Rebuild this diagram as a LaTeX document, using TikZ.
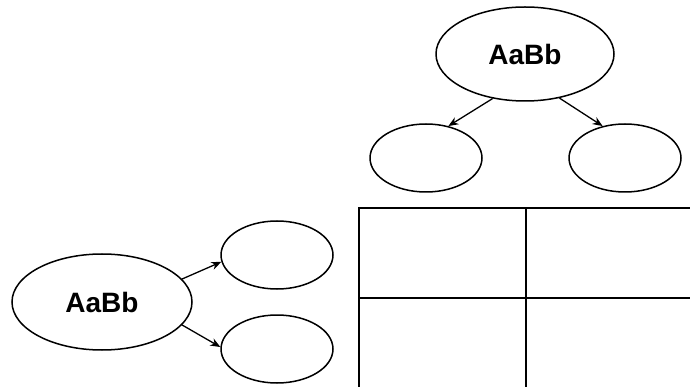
\documentclass[tikz,border=0pt]{standalone}
\usepackage{fontspec}
\setmainfont{Liberation Sans}
\usetikzlibrary{shapes.geometric,arrows.meta}
\begin{document}
\begin{tikzpicture}[x=1pt,y=-1pt,
  oval/.style={draw, ellipse, line width=1.5pt, inner sep=0pt},
  big/.style={oval, minimum width=178pt, minimum height=94pt,
    font=\fontsize{28}{30}\selectfont\bfseries},
  small/.style={oval, minimum width=112pt, minimum height=68pt},
  link/.style={line width=1.3pt, -{Stealth[length=10pt,width=8pt]}},
  grid/.style={line width=2pt}]
\useasboundingbox (0,0) rectangle (690,387);
\begin{scope}
\clip (0,0) rectangle (690,387);
% punnett square
\draw[grid] (359,400) -- (359,208) -- (700,208);
\draw[grid] (359,298) -- (700,298);
\draw[grid] (526,208) -- (526,400);
\end{scope}
% top parent and its gametes
\node[big] (top) at (525,54) {AaBb};
\node[small] (tl) at (426,158) {};
\node[small] (tr) at (625,158) {};
\draw[link] (top.234) -- (tl.55);
\draw[link] (top.308) -- (tr.125);
% left parent and its gametes
\node[big, minimum width=180pt, minimum height=96pt] (left) at (102,302) {AaBb};
\node[small] (lu) at (277,255) {};
\node[small] (ld) at (277,349) {};
\draw[link] (left.16) -- (lu.187);
\draw[link] (left.344) -- (ld.178);
\end{tikzpicture}
\end{document}
